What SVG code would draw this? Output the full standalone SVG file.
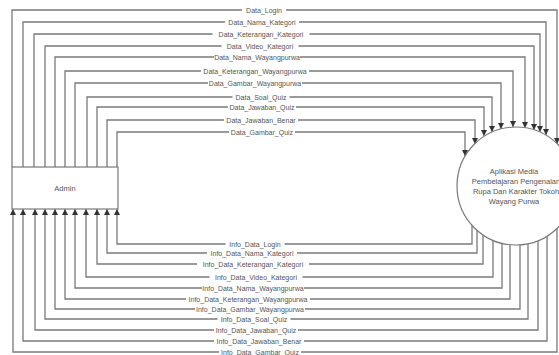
<svg xmlns="http://www.w3.org/2000/svg" width="559" height="355" viewBox="0 0 559 355">
<style>
.c{fill:none;stroke:#7a7a7a;stroke-width:1.3}
.bg{fill:#fff}
.lbl{font-family:"Liberation Sans",Arial,sans-serif;font-size:7px;fill:#555;text-anchor:middle}
.node{fill:#fff;stroke:#7a7a7a;stroke-width:1.2}
.nt{font-family:"Liberation Sans",Arial,sans-serif;font-size:7.5px;fill:#555;text-anchor:middle}
</style>
<defs>
<marker id="ah" markerUnits="userSpaceOnUse" markerWidth="6" markerHeight="6" refX="6" refY="3" orient="auto">
<path d="M0,0 L6,3 L0,6 z" fill="#333"/>
</marker>
</defs>
<rect width="559" height="355" fill="#fff"/>
<g id="connectors">
<path class="c" marker-end="url(#ah)" d="M12,167 V10 H557 V144"/>
<path class="c" marker-end="url(#ah)" d="M23,167 V22 H546 V135"/>
<path class="c" marker-end="url(#ah)" d="M34,167 V34 H540 V132"/>
<path class="c" marker-end="url(#ah)" d="M45,167 V46 H534 V130"/>
<path class="c" marker-end="url(#ah)" d="M55,167 V57 H525 V128"/>
<path class="c" marker-end="url(#ah)" d="M65,167 V71 H513 V127"/>
<path class="c" marker-end="url(#ah)" d="M75,167 V83 H501 V129"/>
<path class="c" marker-end="url(#ah)" d="M87,167 V97 H492 V132"/>
<path class="c" marker-end="url(#ah)" d="M97,167 V107 H484 V136"/>
<path class="c" marker-end="url(#ah)" d="M107,167 V120 H475 V144"/>
<path class="c" marker-end="url(#ah)" d="M117,167 V132 H465 V156"/>
<path class="c" marker-end="url(#ah)" d="M472,225 V244 H117 V209"/>
<path class="c" marker-end="url(#ah)" d="M477,230 V253 H107 V209"/>
<path class="c" marker-end="url(#ah)" d="M483,235 V264 H97 V209"/>
<path class="c" marker-end="url(#ah)" d="M493,240 V277 H86 V209"/>
<path class="c" marker-end="url(#ah)" d="M502,243 V288 H75 V209"/>
<path class="c" marker-end="url(#ah)" d="M510,245 V299 H65 V209"/>
<path class="c" marker-end="url(#ah)" d="M520,245 V309 H55 V209"/>
<path class="c" marker-end="url(#ah)" d="M528,244 V319 H45 V209"/>
<path class="c" marker-end="url(#ah)" d="M538,241 V330 H35 V209"/>
<path class="c" marker-end="url(#ah)" d="M547,236 V341 H23 V209"/>
<path class="c" marker-end="url(#ah)" d="M557,228 V352 H13 V209"/>
<rect class="bg" x="242" y="6" width="44" height="8"/>
<rect class="bg" x="225" y="18" width="74" height="8"/>
<rect class="bg" x="212.5" y="30" width="97" height="8"/>
<rect class="bg" x="221.5" y="42" width="77" height="8"/>
<rect class="bg" x="214" y="53" width="86" height="8"/>
<rect class="bg" x="201" y="67" width="108" height="8"/>
<rect class="bg" x="208" y="79" width="94" height="8"/>
<rect class="bg" x="232.5" y="93" width="57" height="8"/>
<rect class="bg" x="228" y="103" width="68" height="8"/>
<rect class="bg" x="224" y="116" width="74" height="8"/>
<rect class="bg" x="229" y="128" width="66" height="8"/>
<rect class="bg" x="225.5" y="240" width="59" height="8"/>
<rect class="bg" x="207" y="249" width="90" height="8"/>
<rect class="bg" x="197" y="260" width="112" height="8"/>
<rect class="bg" x="209.5" y="273" width="93" height="8"/>
<rect class="bg" x="202" y="284" width="102" height="8"/>
<rect class="bg" x="186" y="295" width="124" height="8"/>
<rect class="bg" x="195" y="305" width="110" height="8"/>
<rect class="bg" x="217.5" y="315" width="73" height="8"/>
<rect class="bg" x="214" y="326" width="84" height="8"/>
<rect class="bg" x="214" y="337" width="90" height="8"/>
<rect class="bg" x="219" y="348" width="82" height="8"/>
<text class="lbl" x="264" y="12.5">Data_Login</text>
<text class="lbl" x="262" y="24.5">Data_Nama_Kategori</text>
<text class="lbl" x="261" y="36.5">Data_Keterangan_Kategori</text>
<text class="lbl" x="260" y="48.5">Data_Video_Kategori</text>
<text class="lbl" x="257" y="59.5">Data_Nama_Wayangpurwa</text>
<text class="lbl" x="255" y="73.5">Data_Keterangan_Wayangpurwa</text>
<text class="lbl" x="255" y="85.5">Data_Gambar_Wayangpurwa</text>
<text class="lbl" x="261" y="99.5">Data_Soal_Quiz</text>
<text class="lbl" x="262" y="109.5">Data_Jawaban_Quiz</text>
<text class="lbl" x="261" y="122.5">Data_Jawaban_Benar</text>
<text class="lbl" x="262" y="134.5">Data_Gambar_Quiz</text>
<text class="lbl" x="255" y="246.5">Info_Data_Login</text>
<text class="lbl" x="252" y="255.5">Info_Data_Nama_Kategori</text>
<text class="lbl" x="253" y="266.5">Info_Data_Keterangan_Kategori</text>
<text class="lbl" x="256" y="279.5">Info_Data_Video_Kategori</text>
<text class="lbl" x="253" y="290.5">Info_Data_Nama_Wayangpurwa</text>
<text class="lbl" x="248" y="301.5">Info_Data_Keterangan_Wayangpurwa</text>
<text class="lbl" x="250" y="311.5">Info_Data_Gambar_Wayangpurwa</text>
<text class="lbl" x="254" y="321.5">Info_Data_Soal_Quiz</text>
<text class="lbl" x="256" y="332.5">Info_Data_Jawaban_Quiz</text>
<text class="lbl" x="259" y="343.5">Info_Data_Jawaban_Benar</text>
<text class="lbl" x="260" y="354.5">Info_Data_Gambar_Quiz</text>
</g>
<g id="admin">
<rect class="node" x="12" y="167" width="106" height="42"/>
<text class="nt" x="65" y="190.5">Admin</text>
</g>
<g id="aplikasi">
<circle class="node" cx="516" cy="186" r="59"/>
<text class="nt" x="514" y="174">Aplikasi Media</text>
<text class="nt" x="516" y="184">Pembelajaran Pengenalan</text>
<text class="nt" x="516" y="194">Rupa Dan Karakter Tokoh</text>
<text class="nt" x="514" y="204">Wayang Purwa</text>
</g>
</svg>
